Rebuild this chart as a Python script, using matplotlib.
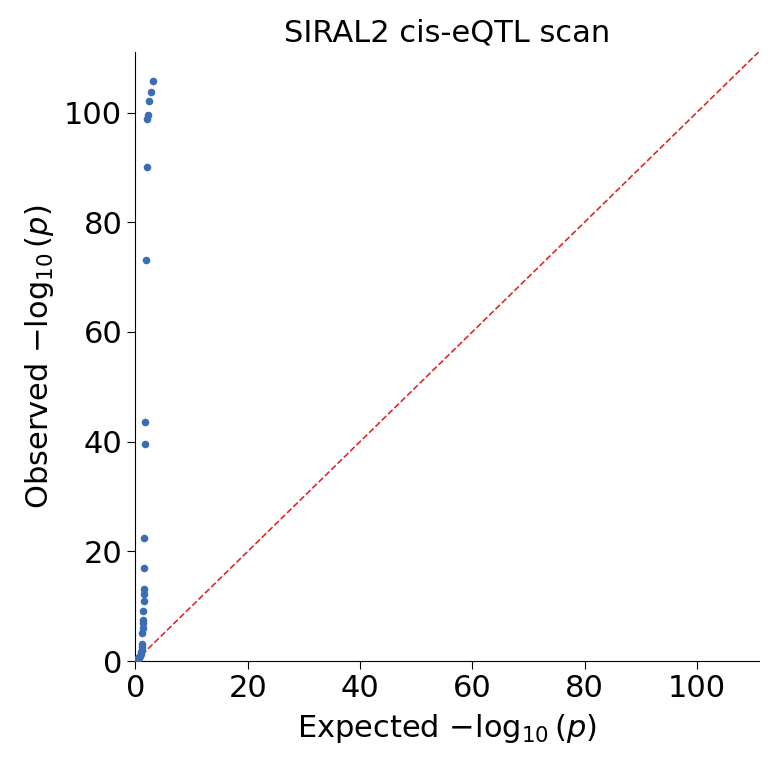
import matplotlib
matplotlib.use("Agg")
import matplotlib.pyplot as plt
import numpy as np

expected = [3.06, 2.75, 2.5, 2.25, 2.1, 2.0, 1.85, 1.75, 1.7, 1.6, 1.55, 1.5, 1.47, 1.44, 1.4, 1.37, 1.34, 1.3, 1.25, 1.2, 1.15, 1.1, 1.0, 0.9, 0.8, 0.7, 0.6, 0.5, 0.4, 0.3, 0.2, 0.1]
observed = [105.8, 103.7, 102.1, 99.5, 98.8, 90.0, 73.2, 43.6, 39.5, 22.5, 17.0, 13.2, 12.3, 11.0, 9.1, 7.5, 6.9, 6.1, 5.2, 3.2, 2.6, 2.1, 1.7, 1.3, 1.0, 0.8, 0.6, 0.5, 0.4, 0.3, 0.2, 0.1]
lim = 111

fig, ax = plt.subplots(figsize=(7.74, 7.67), dpi=100)
ax.scatter(expected, observed, s=30, color="#3a6db5", zorder=3, linewidths=0)
ax.plot([0, lim], [0, lim], "--", color="#e0282a", lw=1.2)
ax.set_xlim(0, lim)
ax.set_ylim(0, lim)
ax.set_xticks([0, 20, 40, 60, 80, 100])
ax.set_yticks([0, 20, 40, 60, 80, 100])
ax.tick_params(labelsize=22, length=6)
ax.spines["top"].set_visible(False)
ax.spines["right"].set_visible(False)
ax.set_xlabel(r"Expected $-\log_{10}(p)$", fontsize=22, labelpad=6)
ax.set_ylabel(r"Observed $-\log_{10}(p)$", fontsize=22, labelpad=6)
ax.set_title("SIRAL2 cis-eQTL scan", fontsize=22, pad=8)
fig.subplots_adjust(left=0.175, right=0.98, bottom=0.138, top=0.932)
fig.savefig("out.png")
